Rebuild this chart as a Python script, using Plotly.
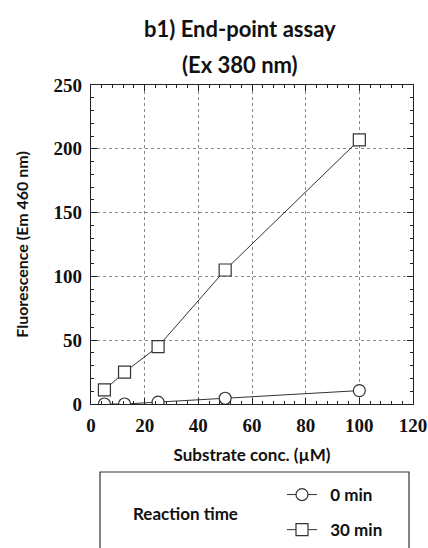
import plotly.graph_objects as go

conc = [5, 12.5, 25, 50, 100]
f_0min = [0, 0, 1.5, 4.5, 10.5]
f_30min = [11, 25, 45, 105, 207]
x_ticks = [0, 20, 40, 60, 80, 100, 120]
y_ticks = [0, 50, 100, 150, 200, 250]

W, H = 428, 548
L, R, T, B = 91, 15, 85, 144
pw, ph = W - L - R, H - T - B

def px2x(px):
    return (px - L) / pw

def py2y(py):
    return (H - B - py) / ph

sans = "Lato"
serif = "Liberation Serif"
NB = "\u00a0"

fig = go.Figure()
fig.add_trace(go.Scatter(
    x=conc, y=f_0min, mode="lines+markers", name=NB * 2 + "0 min", legendgroup="a",
    line=dict(color="#333333", width=1),
    marker=dict(symbol="circle", size=12, color="white", line=dict(color="#333333", width=1.2)),
))
fig.add_trace(go.Scatter(
    x=conc, y=f_30min, mode="lines+markers", name=NB * 2 + "30 min", legendgroup="b",
    line=dict(color="#333333", width=1),
    marker=dict(symbol="square", size=12, color="white", line=dict(color="#333333", width=1.2)),
))

axis_common = dict(
    showline=True, linecolor="#222222", linewidth=1.2, mirror="ticks",
    ticks="inside", ticklen=6, tickcolor="#222222", tickwidth=1,
    showgrid=True, gridcolor="#888888", griddash="dot", gridwidth=1,
    zeroline=False, automargin=False,
    tickfont=dict(family=serif, size=19, color="#111111", weight="bold"),
)

fig.update_xaxes(
    **axis_common, range=[0, 120], tickvals=x_ticks, ticktext=[str(v) for v in x_ticks],
    minor=dict(dtick=4, ticklen=3, ticks="inside", tickcolor="#222222", showgrid=False),
    title=dict(text="Substrate conc. (µM)", font=dict(family=sans, size=17, color="#111111", weight="bold"), standoff=14),
    ticklabelstandoff=4,
)
fig.update_yaxes(
    **axis_common, range=[0, 250], tickvals=y_ticks, ticktext=[str(v) for v in y_ticks],
    minor=dict(dtick=10, ticklen=3, ticks="inside", tickcolor="#222222", showgrid=False),
    title=dict(text="Fluorescence (Em 460 nm)", font=dict(family=sans, size=16, color="#111111", weight="bold"), standoff=20),
    ticklabelstandoff=4,
)

fig.update_layout(
    width=W, height=H,
    margin=dict(l=L, r=R, t=T, b=B, autoexpand=False),
    paper_bgcolor="white", plot_bgcolor="white",
    showlegend=True,
    legend=dict(
        xref="container", yref="container",
        x=282 / W, y=1 - 477 / H, xanchor="left", yanchor="top",
        bgcolor="rgba(0,0,0,0)", borderwidth=0,
        font=dict(family=sans, size=17, color="#111111", weight="bold"),
        tracegroupgap=10, itemwidth=30,
    ),
    shapes=[dict(
        type="rect", xref="paper", yref="paper",
        x0=px2x(100), x1=px2x(409), y0=py2y(560), y1=py2y(472),
        line=dict(color="#333333", width=1.2), fillcolor="rgba(0,0,0,0)",
    )],
    annotations=[
        dict(text="b1) End-point assay", xref="paper", yref="paper",
             x=px2x(240), y=py2y(28), showarrow=False, xanchor="center", yanchor="middle",
             font=dict(family=sans, size=22, color="#111111", weight="bold")),
        dict(text="(Ex 380 nm)", xref="paper", yref="paper",
             x=px2x(240), y=py2y(65), showarrow=False, xanchor="center", yanchor="middle",
             font=dict(family=sans, size=22, color="#111111", weight="bold")),
        dict(text="Reaction time", xref="paper", yref="paper",
             x=px2x(185), y=py2y(513), showarrow=False, xanchor="center", yanchor="middle",
             font=dict(family=sans, size=17, color="#111111", weight="bold")),
    ],
)

fig.write_html(
    "out.html",
    config={"displayModeBar": False},
    post_script="document.body.style.margin='0';document.body.style.padding='0';document.body.style.overflow='hidden';",
)
